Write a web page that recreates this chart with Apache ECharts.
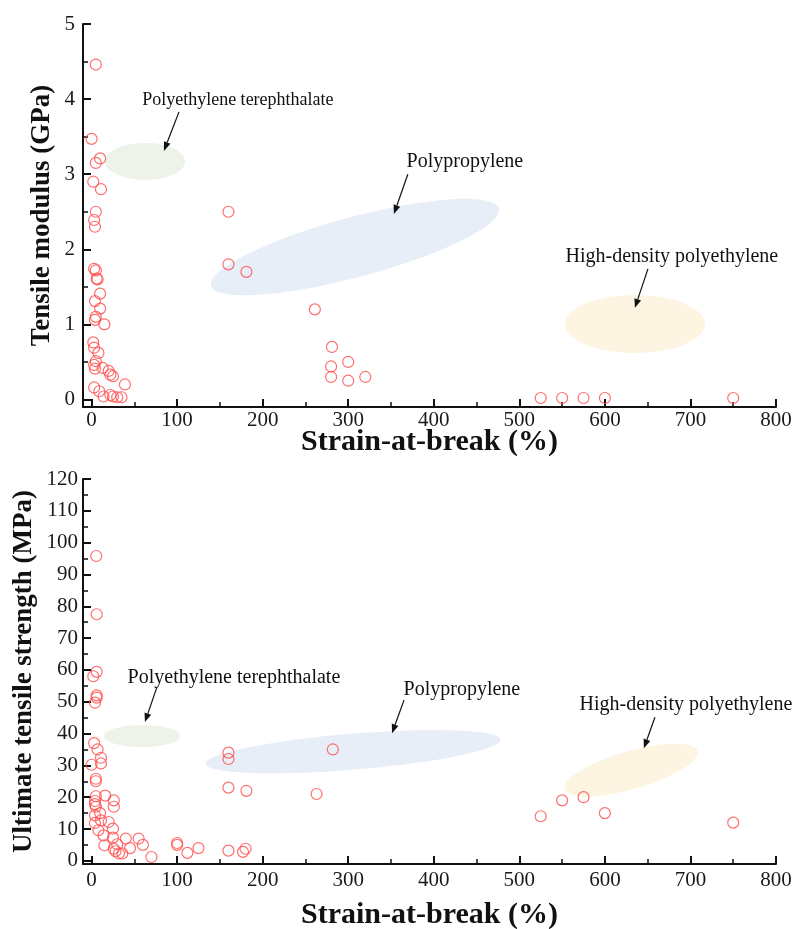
<!DOCTYPE html>
<html>
<head>
<meta charset="utf-8">
<script src="https://cdn.jsdelivr.net/npm/echarts@6/dist/echarts.min.js"></script>
<style>
  html, body { margin: 0; background: #fff; }
  #chart { width: 794px; height: 929px; }
</style>
</head>
<body>
<div id="chart"></div>
<script>
// top panel: strain-at-break (%) vs tensile modulus (GPa)
const topStrain = [5, 0, 10, 5, 2, 11, 5, 3, 4, 3, 5, 6, 7, 10, 4, 10, 5, 4, 15, 2, 3, 8, 5, 3, 4, 13,
  20, 22, 25, 39, 3, 9, 14, 22, 25, 30, 35, 160, 160, 181, 261, 281, 280, 300, 280, 300, 320,
  525, 550, 575, 600, 750];
const topModulus = [4.46, 3.47, 3.21, 3.15, 2.9, 2.8, 2.5, 2.39, 2.3, 1.74, 1.72, 1.61, 1.6, 1.41, 1.31,
  1.21, 1.1, 1.06, 1.0, 0.76, 0.69, 0.62, 0.51, 0.46, 0.41, 0.42, 0.38, 0.33, 0.31, 0.2, 0.16, 0.11,
  0.04, 0.06, 0.04, 0.03, 0.03, 2.5, 1.8, 1.7, 1.2, 0.7, 0.44, 0.5, 0.3, 0.25, 0.3,
  0.02, 0.02, 0.02, 0.02, 0.02];

// bottom panel: strain-at-break (%) vs ultimate tensile strength (MPa)
const botStrain = [5.5, 6, 6, 2, 6, 6, 4, 3, 7, 11, 11, 0, 5, 5, 5, 16, 26, 26, 4, 4, 5, 4, 10, 4, 11,
  20, 25, 8, 14, 25, 40, 55, 15, 30, 45, 60, 26, 32, 36, 28, 70, 100, 100, 112, 125, 160, 177, 180,
  160, 160, 160, 181, 263, 282, 525, 550, 575, 600, 750];
const botStrength = [95.8, 77.5, 59.4, 58, 52, 51.3, 49.7, 37, 35, 32.4, 30.6, 30.2, 25.8, 25, 20.3, 20.5,
  19, 17, 18.8, 17.8, 17, 14.3, 15, 11.9, 12.7, 12.2, 10.1, 9.6, 8, 7.3, 7, 7, 4.9, 5.2, 4, 5, 3.8,
  2.3, 2.3, 3, 1.2, 5.6, 5, 2.5, 4, 3.2, 2.8, 3.8, 34, 32, 23, 22, 21, 35, 14, 19, 20, 15, 12];

const xTicks = [0, 100, 200, 300, 400, 500, 600, 700, 800];
const xMinor = [50, 150, 250, 350, 450, 550, 650, 750];
const modTicks = [0, 1, 2, 3, 4, 5];
const modMinor = [0.5, 1.5, 2.5, 3.5, 4.5];
const utsTicks = [0, 10, 20, 30, 40, 50, 60, 70, 80, 90, 100, 110, 120];
const utsMinor = [5, 15, 25, 35, 45, 55, 65, 75, 85, 95, 105, 115];

const topNotes = [
  { text: 'Polyethylene terephthalate', fill: '#edf3e8', c: [62.4, 3.17], a: 40, b: 18.5, rot: 0,
    label: [171, 3.99], size: 18, arrow: [[102.2, 3.83], [84.6, 3.31]] },
  { text: 'Polypropylene', fill: '#e8eef7', c: [307.8, 2.03], a: 149, b: 30, rot: 15,
    label: [436.4, 3.16], size: 20, arrow: [[369.7, 3.0], [353.4, 2.47]] },
  { text: 'High-density polyethylene', fill: '#fdf5e2', c: [635.1, 1.005], a: 70, b: 29, rot: 0,
    label: [678.3, 1.9], size: 20, arrow: [[650.3, 1.74], [635.1, 1.22]] }
];
const botNotes = [
  { text: 'Polyethylene terephthalate', fill: '#edf3e8', c: [58.9, 39.2], a: 38, b: 11, rot: 0,
    label: [166.4, 57.4], size: 20, arrow: [[76.4, 54.6], [62.4, 43.6]] },
  { text: 'Polypropylene', fill: '#e8eef7', c: [305.5, 34.3], a: 148, b: 18, rot: 4.7,
    label: [432.9, 53.9], size: 20, arrow: [[365.2, 50.5], [351.2, 40.1]] },
  { text: 'High-density polyethylene', fill: '#fdf5e2', c: [630.5, 28.5], a: 69, b: 19, rot: 16,
    label: [694.7, 49.2], size: 20, arrow: [[658.5, 45.1], [645.6, 35.4]] }
];

const serif = '"Liberation Serif", "Times New Roman", serif';

function ellipsePts(c, a, b, deg) {
  const t = deg * Math.PI / 180, pts = [];
  for (let i = 0; i < 72; i++) {
    const s = i / 72 * Math.PI * 2;
    const ex = a * Math.cos(s), ey = b * Math.sin(s);
    pts.push([c[0] + ex * Math.cos(t) - ey * Math.sin(t), c[1] - (ex * Math.sin(t) + ey * Math.cos(t))]);
  }
  return pts;
}

function noteRenderer(notes) {
  return function (params, api) {
    const n = notes[params.dataIndex];
    const c = api.coord(n.c);
    const p0 = api.coord(n.arrow[0]);
    const p1 = api.coord(n.arrow[1]);
    const lp = api.coord(n.label);
    const dx = p1[0] - p0[0], dy = p1[1] - p0[1];
    const len = Math.sqrt(dx * dx + dy * dy);
    const ux = dx / len, uy = dy / len;
    const base = [p1[0] - ux * 9, p1[1] - uy * 9];
    return {
      type: 'group',
      children: [
        { type: 'polygon', shape: { points: ellipsePts(c, n.a, n.b, n.rot) }, style: { fill: n.fill } },
        { type: 'line', shape: { x1: p0[0], y1: p0[1], x2: base[0], y2: base[1] },
          style: { stroke: '#111', lineWidth: 1.2 } },
        { type: 'polygon', shape: { points: [p1, [base[0] - uy * 3.5, base[1] + ux * 3.5], [base[0] + uy * 3.5, base[1] - ux * 3.5]] },
          style: { fill: '#111' } },
        { type: 'text', style: { text: n.text, x: lp[0], y: lp[1], fill: '#111',
          font: n.size + 'px ' + serif, align: 'center', verticalAlign: 'middle' } }
      ]
    };
  };
}

function xAxes(grid, gap, margin) {
  return [{
    type: 'value', gridIndex: grid, position: 'bottom', min: -10, max: 800,
    name: 'Strain-at-break (%)', nameLocation: 'middle', nameGap: gap, nameMoveOverlap: false,
    nameTextStyle: { fontFamily: serif, fontSize: 30, fontWeight: 'bold', color: '#111' },
    axisLine: { show: true, onZero: false, lineStyle: { color: '#111', width: 2 } },
    axisTick: { show: true, inside: true, length: 8, customValues: xTicks, lineStyle: { color: '#111', width: 2 } },
    axisLabel: { customValues: xTicks, margin: margin, fontFamily: serif, fontSize: 21, color: '#1a1a1a' },
    splitLine: { show: false }
  }, {
    type: 'value', gridIndex: grid, position: 'bottom', min: -10, max: 800,
    axisLine: { show: false, onZero: false },
    axisTick: { show: true, inside: true, length: 5, customValues: xMinor, lineStyle: { color: '#111', width: 1.5 } },
    axisLabel: { show: false },
    splitLine: { show: false }
  }];
}

function yAxes(grid, min, max, ticks, minor, name, gap, margin) {
  return [{
    type: 'value', gridIndex: grid, position: 'left', min: min, max: max,
    name: name, nameLocation: 'middle', nameGap: gap, nameMoveOverlap: false,
    nameTextStyle: { fontFamily: serif, fontSize: 27, fontWeight: 'bold', color: '#111' },
    axisLine: { show: true, onZero: false, lineStyle: { color: '#111', width: 2 } },
    axisTick: { show: true, inside: true, length: 8, customValues: ticks, lineStyle: { color: '#111', width: 2 } },
    axisLabel: { customValues: ticks, margin: margin, fontFamily: serif, fontSize: 21, color: '#1a1a1a' },
    splitLine: { show: false }
  }, {
    type: 'value', gridIndex: grid, position: 'left', min: min, max: max,
    axisLine: { show: false, onZero: false },
    axisTick: { show: true, inside: true, length: 5, customValues: minor, lineStyle: { color: '#111', width: 1.5 } },
    axisLabel: { show: false },
    splitLine: { show: false }
  }];
}

const circleStyle = { color: 'rgba(255,255,255,0)', borderColor: '#ff4a4a', borderWidth: 1.2 };

const chart = echarts.init(document.getElementById('chart'));
chart.setOption({
  animation: false,
  backgroundColor: '#fff',
  grid: [
    { left: 83, right: 18, top: 24, height: 383, outerBoundsMode: 'none' },
    { left: 83, right: 18, top: 479, height: 385, outerBoundsMode: 'none' }
  ],
  xAxis: [].concat(xAxes(0, 20, 3), xAxes(1, 36, 6)),
  yAxis: [].concat(
    yAxes(0, -0.1, 5, modTicks, modMinor, 'Tensile modulus (GPa)', 27, 8),
    yAxes(1, -1, 120, utsTicks, utsMinor, 'Ultimate tensile strength (MPa)', 45, 5)
  ),
  series: [
    { type: 'custom', xAxisIndex: 0, yAxisIndex: 0, z: 1, silent: true, clip: false,
      data: topNotes.map(n => n.c), renderItem: noteRenderer(topNotes) },
    { type: 'scatter', xAxisIndex: 0, yAxisIndex: 0, z: 3, symbol: 'circle', symbolSize: 11,
      itemStyle: circleStyle, data: topStrain.map((x, i) => [x, topModulus[i]]) },
    { type: 'custom', xAxisIndex: 2, yAxisIndex: 2, z: 1, silent: true, clip: false,
      data: botNotes.map(n => n.c), renderItem: noteRenderer(botNotes) },
    { type: 'scatter', xAxisIndex: 2, yAxisIndex: 2, z: 3, symbol: 'circle', symbolSize: 11,
      itemStyle: circleStyle, data: botStrain.map((x, i) => [x, botStrength[i]]) }
  ]
});
</script>
</body>
</html>
